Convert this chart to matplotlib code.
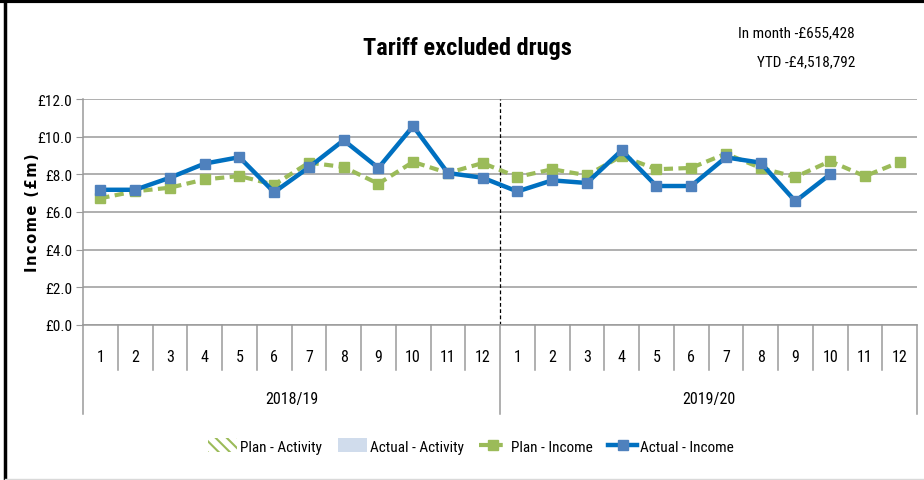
import os
import matplotlib
matplotlib.use("Agg")
import matplotlib.pyplot as plt
from matplotlib import font_manager as fm
from matplotlib.patches import Patch
from matplotlib.lines import Line2D
import matplotlib.transforms as mtransforms

# Monthly income (£m)
months = [str(m) for m in range(1, 13)] * 2
years = ["2018/19", "2019/20"]
plan_income = [6.73, 7.10, 7.29, 7.73, 7.91, 7.45, 8.62, 8.39, 7.50, 8.66, 8.07, 8.60,
               7.86, 8.27, 7.95, 8.97, 8.27, 8.34, 9.10, 8.34, 7.86, 8.70, 7.90, 8.65]
actual_income = [7.18, 7.18, 7.82, 8.57, 8.91, 7.05, 8.37, 9.81, 8.34, 10.56, 8.07, 7.82,
                 7.09, 7.68, 7.54, 9.27, 7.38, 7.38, 8.90, 8.62, 6.57, 8.00]
yticks = [0, 2, 4, 6, 8, 10, 12]
title = "Tariff excluded drugs"
notes = ["In month -£655,428", "YTD -£4,518,792"]


def narrow_font(bold):
    """Find a condensed sans font file, falling back to Liberation Sans."""
    prefs = [
        ("LiberationSansNarrow-Bold", "LiberationSansNarrow-Regular"),
        ("NotoSans-CondensedBold", "NotoSans-Condensed"),
        ("OpenSans-CondensedBold", "OpenSans-CondensedRegular"),
        ("OpenSans_Condensed-Bold", "OpenSans_Condensed-Regular"),
        ("RobotoCondensed-Bold", "RobotoCondensed-Regular"),
        ("NotoSans-SemiCondensedBold", "NotoSans-SemiCondensed"),
    ]
    files = {os.path.splitext(os.path.basename(f.fname))[0]: f.fname
             for f in fm.fontManager.ttflist}
    for b, r in prefs:
        key = b if bold else r
        if key in files:
            return fm.FontProperties(fname=files[key])
    return fm.FontProperties(family="Liberation Sans",
                             weight="bold" if bold else "normal")


FP = narrow_font(False)
FPB = narrow_font(True)


def fp(size, bold=False):
    p = (FPB if bold else FP).copy()
    p.set_size(size)
    return p


W, H = 924, 481
fig = plt.figure(figsize=(W / 100, H / 100), dpi=100)
ax = fig.add_axes([83 / W, (H - 326) / H, (917 - 83) / W, (326 - 100) / H])

x_plan = list(range(1, len(plan_income) + 1))
x_act = list(range(1, len(actual_income) + 1))

green = "#9BBB59"
blue_line = "#0070C0"
blue_mark = "#4F81BD"
grid = "#9a9a9a"

ax.plot(x_plan, plan_income, color=green, lw=3, ls=(0, (2.2, 1.3)),
        marker="s", ms=7, mfc=green, mec=green, zorder=3)
ax.plot(x_act, actual_income, color=blue_line, lw=3.2,
        marker="s", ms=7, mfc=blue_mark, mec=blue_mark, zorder=4)

ax.set_xlim(0.5, len(months) + 0.5)
ax.set_ylim(0, 12)
ax.set_yticks(yticks)
ax.set_yticklabels([f"£{v:.1f}" for v in yticks], fontproperties=fp(11))
ax.yaxis.grid(True, color=grid, lw=1.1)
ax.set_axisbelow(True)
ax.set_xticks([])
for s in ("top", "right"):
    ax.spines[s].set_visible(False)
for s in ("left", "bottom"):
    ax.spines[s].set_color(grid)
    ax.spines[s].set_linewidth(1.1)
ax.tick_params(axis="y", length=5, color=grid, pad=3)

# year separator
ax.axvline(12.5, color="black", lw=0.9, ls=(0, (3, 2)), zorder=2)

# category table below the plot area
trans = mtransforms.blended_transform_factory(ax.transData, fig.transFigure)
y0 = (H - 326) / H
y_inner = (H - 371) / H
y_outer = (H - 415) / H
n = len(months)
for i in range(n + 1):
    xb = i + 0.5
    bottom = y_outer if i % 12 == 0 else y_inner
    ax.add_line(Line2D([xb, xb], [y0, bottom], transform=trans, color=grid,
                       lw=1.1, clip_on=False))
for i, m in enumerate(months):
    ax.text(i + 1, (H - 358) / H, m, transform=trans, ha="center", va="center",
            fontproperties=fp(11.5))
for j, yr in enumerate(years):
    ax.text(6.5 + 12 * j, (H - 400) / H, yr, transform=trans, ha="center",
            va="center", fontproperties=fp(11.5))

ax.set_ylabel("I\u200an\u200ac\u200ao\u200am\u200ae\u2009 (\u200a£\u200am\u200a)",
              fontsize=10.5, fontweight="bold", family="DejaVu Sans")
ax.yaxis.set_label_coords(-0.052, 0.5)

fig.text(467 / W, (H - 48) / H, title, ha="center", va="center",
         fontproperties=fp(17.5, bold=True))
fig.text(855 / W, (H - 33) / H, notes[0], ha="right", va="center",
         fontproperties=fp(11))
fig.text(855 / W, (H - 62) / H, notes[1], ha="right", va="center",
         fontproperties=fp(11))

plt.rcParams['hatch.color'] = green
plt.rcParams['hatch.linewidth'] = 1.5
handles = [
    Patch(facecolor="white", edgecolor=green, hatch="\\\\\\", lw=0),
    Patch(facecolor="#D0DCEC", edgecolor="none"),
    Line2D([], [], color=green, lw=3, ls=(0, (2.2, 1.3)), marker="s", ms=7,
           mfc=green, mec=green),
    Line2D([], [], color=blue_line, lw=3.2, marker="s", ms=7, mfc=blue_mark,
           mec=blue_mark),
]
labels = ["Plan - Activity", "Actual - Activity", "Plan - Income", "Actual - Income"]
fig.legend(handles, labels, loc="center", bbox_to_anchor=(471 / W, (H - 447) / H),
           ncol=4, frameon=False, prop=fp(11), handlelength=1.9,
           handleheight=1.0, handletextpad=0.2, columnspacing=1.0)

# outer frame
fig.add_artist(Line2D([5 / W, 5 / W], [0, 1], transform=fig.transFigure,
                      color="black", lw=2.5))
fig.add_artist(Line2D([0, 1], [(H - 2) / H, (H - 2) / H], transform=fig.transFigure,
                      color="black", lw=3))
fig.add_artist(Line2D([5 / W, 1], [1.5 / H, 1.5 / H], transform=fig.transFigure,
                      color="#d9d9d9", lw=1))

fig.savefig("out.png", dpi=100)
